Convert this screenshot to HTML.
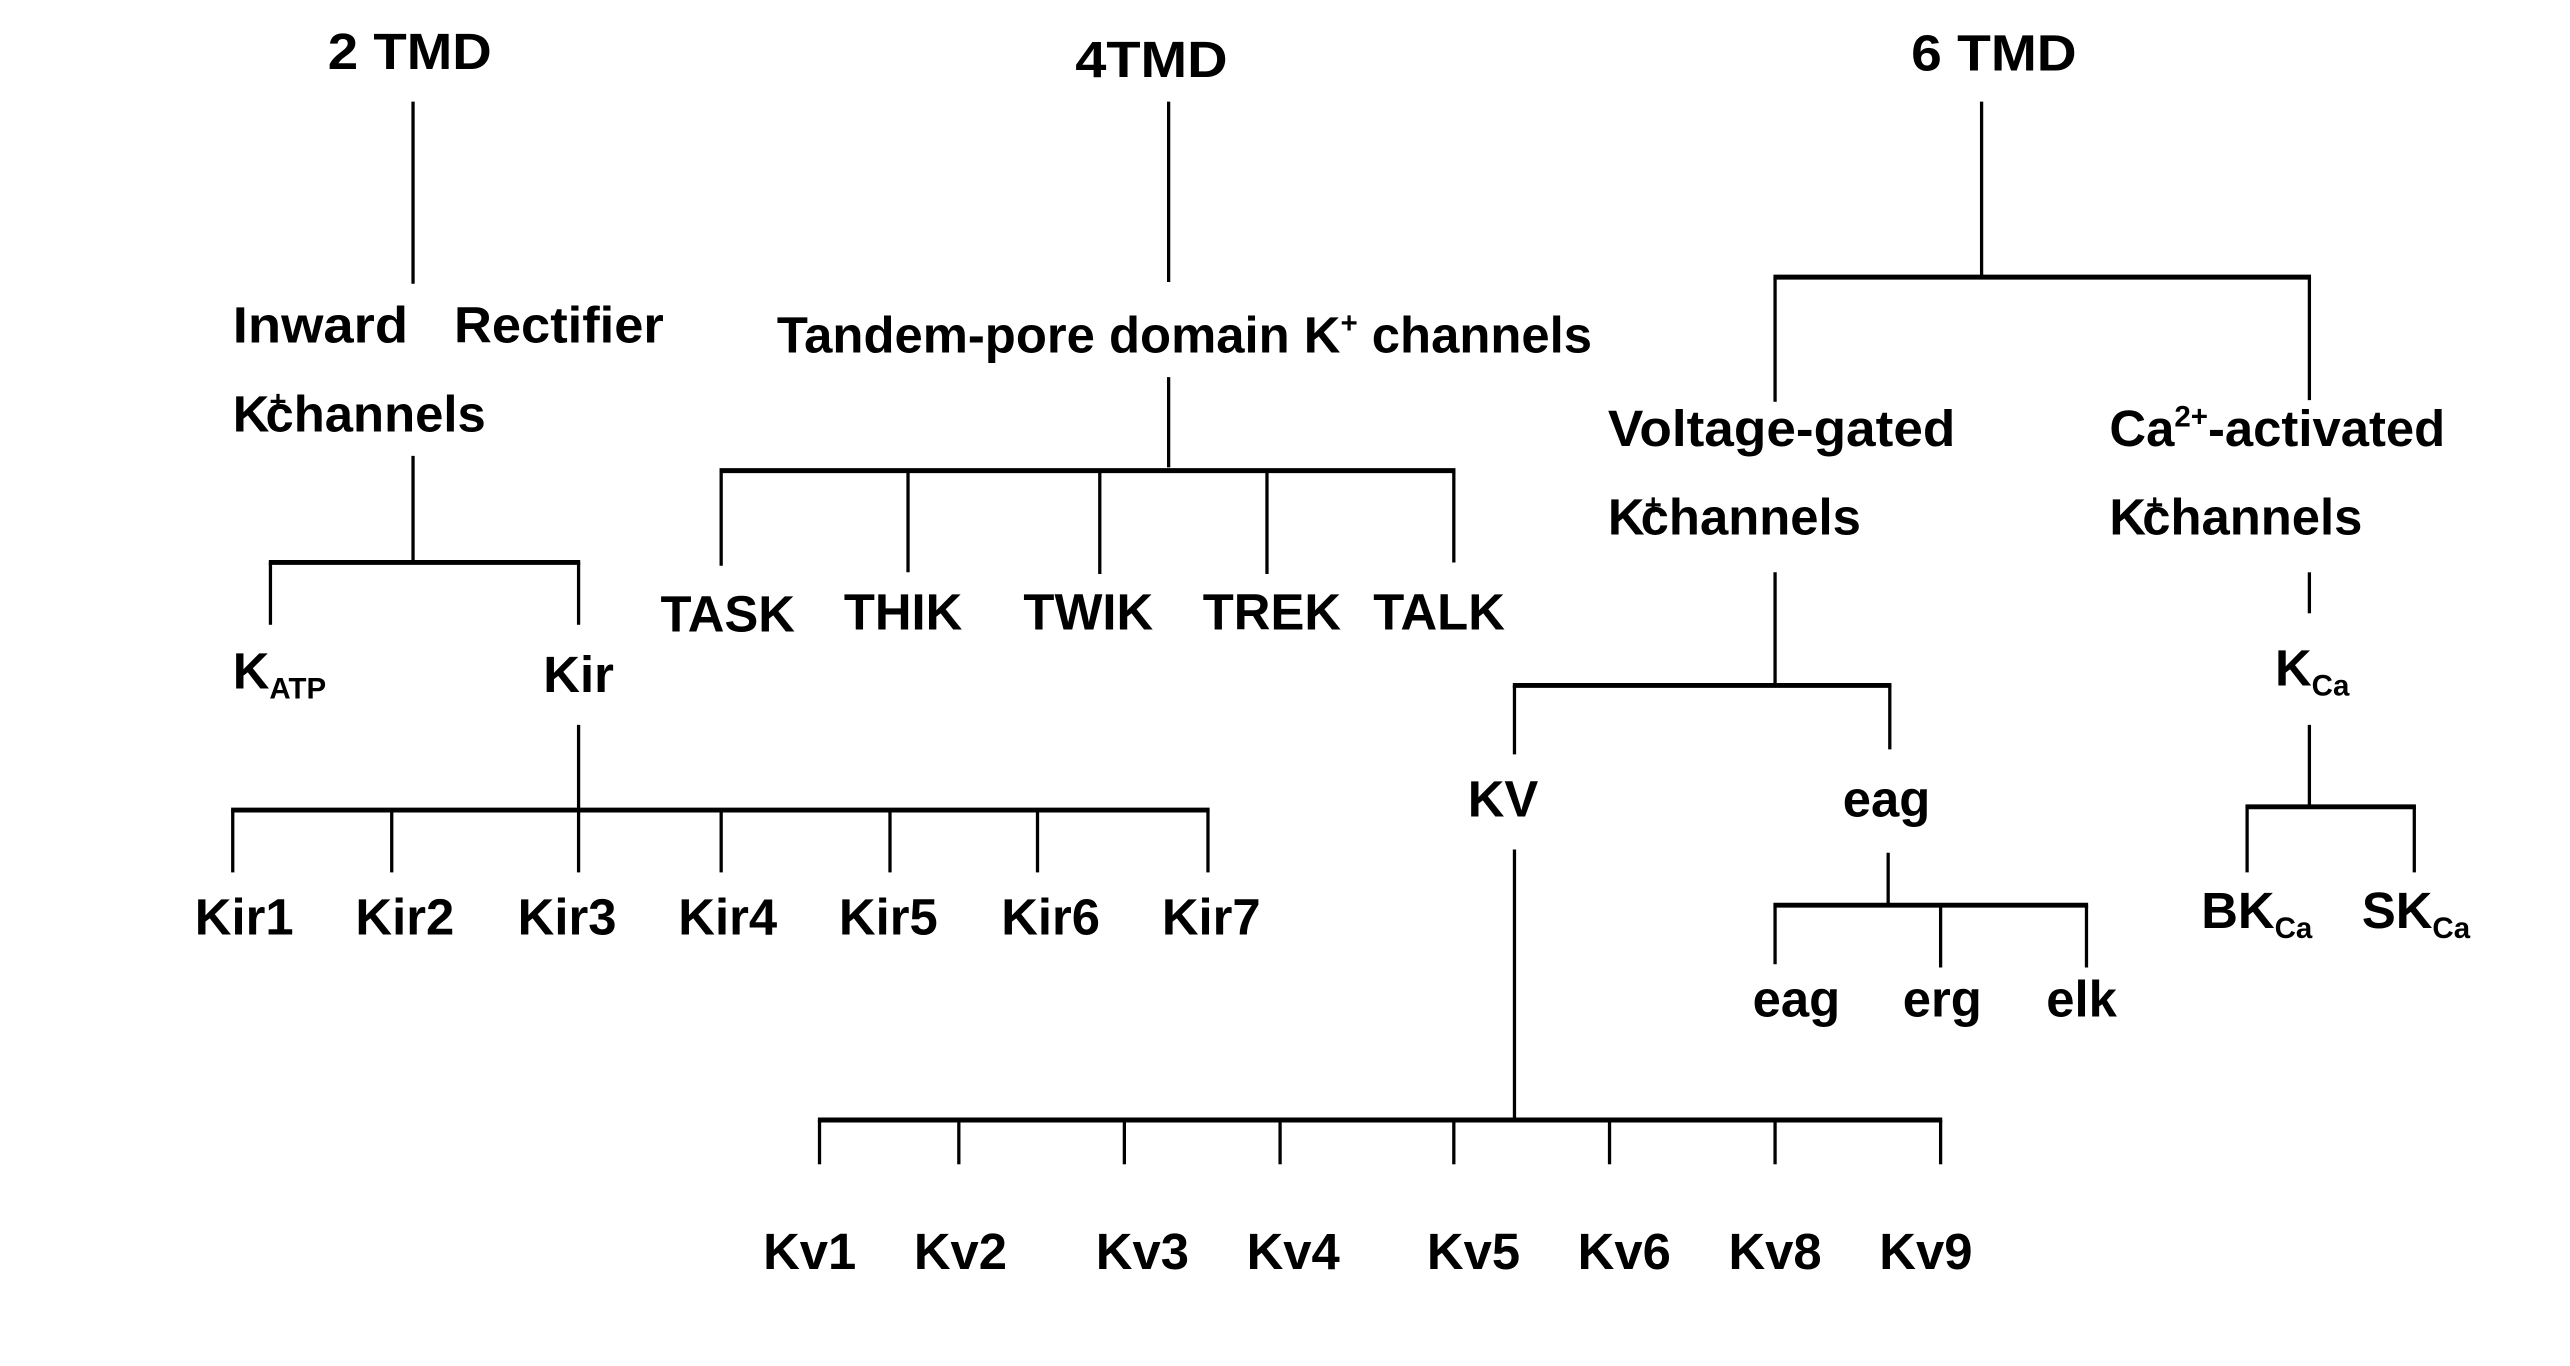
<!DOCTYPE html>
<html><head><meta charset="utf-8"><style>
html,body{margin:0;padding:0;background:#fff;}
svg{display:block;}
text{font-family:"Liberation Sans Narrow","Liberation Sans",sans-serif;font-weight:bold;font-size:31px;fill:#000;}
.s{font-size:18px;}
</style></head><body>
<svg width="2570" height="1366" viewBox="0 0 1568 833" preserveAspectRatio="none" xmlns="http://www.w3.org/2000/svg">
<g stroke="#000" fill="none">
<g stroke-width="2">
<line x1="252" y1="62" x2="252" y2="173"/>
<line x1="252" y1="278" x2="252" y2="343"/>
<line x1="165" y1="343" x2="165" y2="381"/>
<line x1="353" y1="343" x2="353" y2="381"/>
<line x1="353" y1="442" x2="353" y2="494"/>
<line x1="142" y1="494" x2="142" y2="532"/><line x1="239" y1="494" x2="239" y2="532"/><line x1="353" y1="494" x2="353" y2="532"/><line x1="440" y1="494" x2="440" y2="532"/><line x1="543" y1="494" x2="543" y2="532"/><line x1="633" y1="494" x2="633" y2="532"/><line x1="737" y1="494" x2="737" y2="532"/>
<line x1="713" y1="62" x2="713" y2="172"/>
<line x1="713" y1="230" x2="713" y2="285"/>
<line x1="440" y1="287" x2="440" y2="345"/><line x1="554" y1="287" x2="554" y2="349"/><line x1="671" y1="287" x2="671" y2="350"/><line x1="773" y1="287" x2="773" y2="350"/><line x1="887" y1="287" x2="887" y2="343"/>
<line x1="1209" y1="62" x2="1209" y2="169"/>
<line x1="1083" y1="169" x2="1083" y2="245"/><line x1="1409" y1="169" x2="1409" y2="244"/>
<line x1="1083" y1="349" x2="1083" y2="418"/>
<line x1="924" y1="418" x2="924" y2="460"/><line x1="1153" y1="418" x2="1153" y2="457"/>
<line x1="924" y1="518" x2="924" y2="683"/>
<line x1="500" y1="683" x2="500" y2="710"/><line x1="585" y1="683" x2="585" y2="710"/><line x1="686" y1="683" x2="686" y2="710"/><line x1="781" y1="683" x2="781" y2="710"/><line x1="887" y1="683" x2="887" y2="710"/><line x1="982" y1="683" x2="982" y2="710"/><line x1="1083" y1="683" x2="1083" y2="710"/><line x1="1184" y1="683" x2="1184" y2="710"/>
<line x1="1152" y1="520" x2="1152" y2="552"/>
<line x1="1083" y1="552" x2="1083" y2="588"/><line x1="1184" y1="552" x2="1184" y2="590"/><line x1="1273" y1="552" x2="1273" y2="590"/>
<line x1="1409" y1="349" x2="1409" y2="374"/>
<line x1="1409" y1="442" x2="1409" y2="492"/>
<line x1="1371" y1="492" x2="1371" y2="532"/><line x1="1473" y1="492" x2="1473" y2="532"/>
</g>
<g stroke-width="3">
<line x1="164" y1="343" x2="354" y2="343"/>
<line x1="141" y1="494" x2="738" y2="494"/>
<line x1="439" y1="287" x2="888" y2="287"/>
<line x1="1082" y1="169" x2="1410" y2="169"/>
<line x1="923" y1="418" x2="1154" y2="418"/>
<line x1="499" y1="683" x2="1185" y2="683"/>
<line x1="1082" y1="552" x2="1274" y2="552"/>
<line x1="1370" y1="492" x2="1474" y2="492"/>
</g>
</g>
<text x="200" y="42" textLength="100" lengthAdjust="spacingAndGlyphs">2 TMD</text>
<text x="656" y="47" textLength="93" lengthAdjust="spacingAndGlyphs">4TMD</text>
<text x="1166" y="43" textLength="101" lengthAdjust="spacingAndGlyphs">6 TMD</text>
<text x="142" y="209" textLength="107" lengthAdjust="spacingAndGlyphs">Inward</text>
<text x="277" y="209" textLength="128" lengthAdjust="spacingAndGlyphs">Rectifier</text>
<text x="142" y="263">K<tspan class="s" dy="-12">+</tspan><tspan dy="12" x="162">channels</tspan></text>
<text x="474" y="215">Tandem-pore domain K<tspan class="s" dy="-12">+</tspan><tspan dy="12"> channels</tspan></text>
<text x="981" y="272" textLength="212" lengthAdjust="spacingAndGlyphs">Voltage-gated</text>
<text x="981" y="326">K<tspan class="s" dy="-12">+</tspan><tspan dy="12" x="1001">channels</tspan></text>
<text x="1287" y="272">Ca<tspan class="s" dy="-12">2+</tspan><tspan dy="12">-activated</tspan></text>
<text x="1287" y="326">K<tspan class="s" dy="-12">+</tspan><tspan dy="12" x="1307">channels</tspan></text>
<text x="142" y="420">K<tspan class="s" dy="6">ATP</tspan></text>
<text x="353" y="422" text-anchor="middle">Kir</text>
<g text-anchor="middle">
<text x="149" y="570">Kir1</text><text x="247" y="570">Kir2</text><text x="346" y="570">Kir3</text><text x="444" y="570">Kir4</text><text x="542" y="570">Kir5</text><text x="641" y="570">Kir6</text><text x="739" y="570">Kir7</text>
<text x="444" y="385">TASK</text><text x="551" y="384">THIK</text><text x="664" y="384">TWIK</text><text x="776" y="384">TREK</text><text x="878" y="384">TALK</text>
<text x="917" y="498">KV</text><text x="1151" y="498">eag</text>
<text x="1096" y="620">eag</text><text x="1185" y="620">erg</text><text x="1270" y="620">elk</text>
<text x="494" y="774">Kv1</text><text x="586" y="774">Kv2</text><text x="697" y="774">Kv3</text><text x="789" y="774">Kv4</text><text x="899" y="774">Kv5</text><text x="991" y="774">Kv6</text><text x="1083" y="774">Kv8</text><text x="1175" y="774">Kv9</text>
</g>
<text x="1388" y="418">K<tspan class="s" dy="6">Ca</tspan></text>
<text x="1343" y="566">BK<tspan class="s" dy="6">Ca</tspan></text>
<text x="1441" y="566">SK<tspan class="s" dy="6">Ca</tspan></text>
</svg>
</body></html>
